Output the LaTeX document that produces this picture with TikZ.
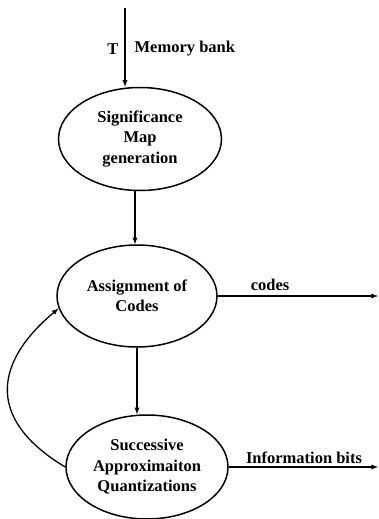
\documentclass[tikz,border=0pt]{standalone}
\usepackage{fontspec}
\setmainfont{Liberation Serif}
\usetikzlibrary{shapes.geometric}

\tikzset{
    stage/.style={ellipse, draw, line width=1.5pt, inner sep=0pt, align=center,
        font=\fontsize{16.5}{20.5}\selectfont\bfseries},
    lbl/.style={font=\fontsize{16.5}{18}\selectfont\bfseries, inner sep=1pt}
}

\begin{document}
\begin{tikzpicture}[x=1pt, y=-1pt, >=latex, line width=1.3pt]
    \useasboundingbox (0,0) rectangle (378,519);
    \node [stage, minimum width=163pt, minimum height=103pt] (sig) at (140,139) {Significance\\Map\\generation};
    \node [stage, minimum width=160pt, minimum height=102pt] (asg) at (137,296) {Assignment of\\Codes};
    \node [stage, minimum width=162pt, minimum height=104pt] (saq) at (147,467) {Successive\\Approximaiton\\Quantizations};
    \coordinate (in) at (125,8);
    \coordinate (sigout) at (135,190);
    \coordinate (codesout) at (378,296);
    \coordinate (bitsout) at (378,467);
    % input
    \draw [->] (in) -- (in |- sig.north);
    \node [lbl] (t) at (113,49) {T};
    \node [lbl, anchor=west] (mem) at (133,49) {Memory bank};
    % main flow
    \draw [->] (sigout) -- (sigout |- asg.north);
    \draw [->] (asg.south) -- (asg.south |- saq.north);
    % outputs
    \draw [->] (asg.east) -- (codesout);
    \node [lbl] (codes) at (270,285) {codes};
    \draw [->] (saq.east) -- (bitsout);
    \node [lbl] (bits) at (304,458) {Information bits};
    % feedback
    \draw [->] (saq.west) .. controls (-10,422) and (-10,366) .. (asg.189);
\end{tikzpicture}
\end{document}
